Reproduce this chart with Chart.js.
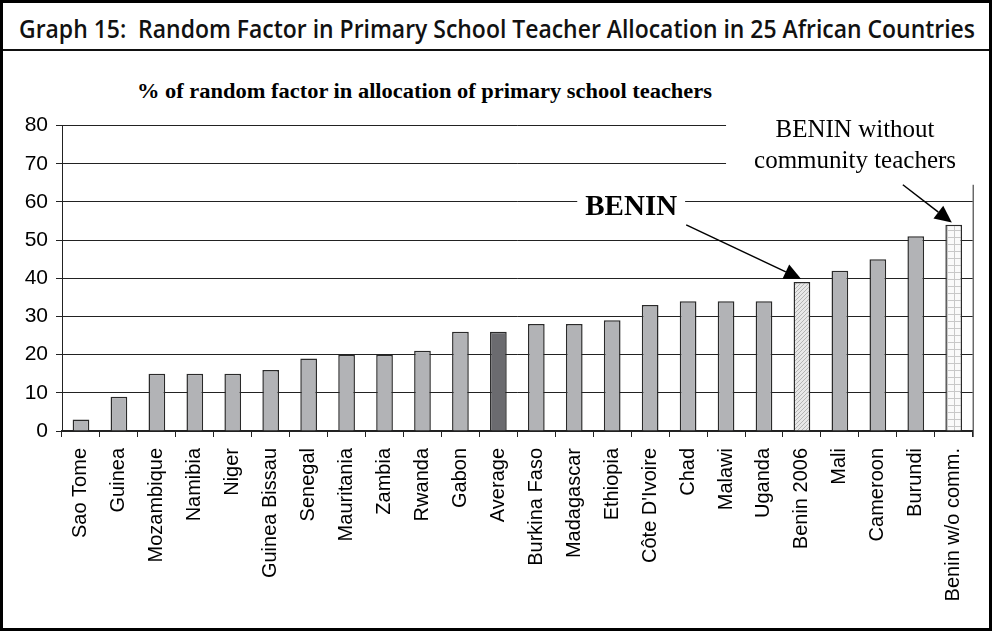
<!DOCTYPE html>
<html>
<head>
<meta charset="utf-8">
<script src="https://cdn.jsdelivr.net/npm/chart.js@4"></script>
<style>
html, body { margin: 0; padding: 0; background: #fff; }
#frame { position: absolute; left: 0; top: 0; width: 992px; height: 631px; box-sizing: border-box; border: 3px solid #000; }
#head { position: absolute; left: 19px; top: 13px; font-family: "Open Sans", sans-serif; font-weight: 600; font-size: 25px; line-height: 30px; color: #111; white-space: nowrap; transform-origin: 0 0; }
#rule { position: absolute; left: 3px; right: 3px; top: 49px; height: 2px; background: #111; }
#sub { position: absolute; left: 137px; top: 80px; font-family: "Liberation Serif", serif; font-weight: bold; font-size: 20px; line-height: 23px; color: #000; white-space: nowrap; transform-origin: 0 0; }
#c { position: absolute; left: 3px; top: 105px; }
</style>
</head>
<body>
<div id="frame"></div>
<div id="head">Graph 15:&nbsp; Random Factor in Primary School Teacher Allocation in 25 African Countries</div>
<div id="rule"></div>
<div id="sub">% of random factor in allocation of primary school teachers</div>
<canvas id="c" width="986" height="522"></canvas>
<script>
// data
var countries = ["Sao Tome", "Guinea", "Mozambique", "Namibia", "Niger", "Guinea Bissau", "Senegal",
  "Mauritania", "Zambia", "Rwanda", "Gabon", "Average", "Burkina Faso", "Madagascar", "Ethiopia",
  "Côte D'Ivoire", "Chad", "Malawi", "Uganda", "Benin 2006", "Mali", "Cameroon", "Burundi", "Benin w/o comm."];
var randomFactor = [3, 9, 15, 15, 15, 16, 19, 20, 20, 21, 26, 26, 28, 28, 29, 33, 34, 34, 34, 39, 42, 45, 51, 54];
var yTicks = [0, 10, 20, 30, 40, 50, 60, 70, 80];

// squeeze the header texts to the widths they have in the picture
function fitWidth(id, w) {
  var el = document.getElementById(id);
  el.style.transform = 'scaleX(' + (w / el.getBoundingClientRect().width) + ')';
}
fitWidth('head', 956);
fitWidth('sub', 575);

// fill patterns for the two Benin bars
function hatch() {
  var p = document.createElement('canvas');
  p.width = 4; p.height = 4;
  var g = p.getContext('2d');
  g.fillStyle = '#e8e8e8'; g.fillRect(0, 0, 4, 4);
  g.strokeStyle = '#b4b4b4'; g.lineWidth = 1;
  g.beginPath();
  g.moveTo(0, 4); g.lineTo(4, 0);
  g.moveTo(-2, 2); g.lineTo(2, -2);
  g.moveTo(2, 6); g.lineTo(6, 2);
  g.stroke();
  return g.createPattern(p, 'repeat');
}
function gridPat() {
  var p = document.createElement('canvas');
  p.width = 7; p.height = 7;
  var g = p.getContext('2d');
  g.fillStyle = '#fafafa'; g.fillRect(0, 0, 7, 7);
  g.fillStyle = '#c8c8c8';
  g.fillRect(0, 6, 7, 1);
  g.fillRect(6, 0, 1, 7);
  return g.createPattern(p, 'repeat');
}

var fills = countries.map(function (c) {
  if (c === 'Average') return '#6b6b6f';
  if (c === 'Benin 2006') return hatch();
  if (c === 'Benin w/o comm.') return gridPat();
  return '#b2b3b6';
});

function arrow(ctx, x1, y1, x2, y2) {
  var a = Math.atan2(y2 - y1, x2 - x1);
  var L = 17, W = 8;
  ctx.strokeStyle = '#000'; ctx.fillStyle = '#000'; ctx.lineWidth = 1.5;
  ctx.beginPath();
  ctx.moveTo(x1, y1);
  ctx.lineTo(x2 - L * Math.cos(a), y2 - L * Math.sin(a));
  ctx.stroke();
  ctx.beginPath();
  ctx.moveTo(x2, y2);
  ctx.lineTo(x2 - L * Math.cos(a) + W * Math.sin(a), y2 - L * Math.sin(a) - W * Math.cos(a));
  ctx.lineTo(x2 - L * Math.cos(a) - W * Math.sin(a), y2 - L * Math.sin(a) + W * Math.cos(a));
  ctx.closePath();
  ctx.fill();
}

var notes = {
  id: 'notes',
  afterDraw: function (chart) {
    var ctx = chart.ctx, x = chart.scales.x, y = chart.scales.y, ca = chart.chartArea;
    ctx.save();
    // right border of plot
    ctx.strokeStyle = '#222'; ctx.lineWidth = 1;
    ctx.beginPath(); ctx.moveTo(ca.right + 0.5, ca.top); ctx.lineTo(ca.right + 0.5, ca.bottom + 6); ctx.stroke();

    // box for the "without community teachers" note
    var bx = x.getPixelForValue(17);
    ctx.fillStyle = '#fff';
    ctx.fillRect(bx, y.getPixelForValue(83), ca.right + 8 - bx, y.getPixelForValue(64.5) - y.getPixelForValue(83));
    ctx.fillStyle = '#000';
    ctx.font = '25px "Liberation Serif", serif';
    ctx.textAlign = 'center'; ctx.textBaseline = 'middle';
    var cx = x.getPixelForValue(20.4);
    ctx.fillText('BENIN without', cx, y.getPixelForValue(78.8));
    ctx.fillText('community teachers', cx, y.getPixelForValue(70.6));

    // BENIN label
    ctx.font = 'bold 29px "Liberation Serif", serif';
    var tx = x.getPixelForValue(14.5), ty = y.getPixelForValue(58.6);
    var tw = ctx.measureText('BENIN').width;
    ctx.fillStyle = '#fff';
    ctx.fillRect(tx - tw / 2 - 8, ty - 16, tw + 16, 32);
    ctx.fillStyle = '#000';
    ctx.fillText('BENIN', tx, ty);

    arrow(ctx, x.getPixelForValue(15.95), y.getPixelForValue(54), x.getPixelForValue(18.98), y.getPixelForValue(39.8));
    arrow(ctx, x.getPixelForValue(21.66), y.getPixelForValue(64.5), x.getPixelForValue(22.95), y.getPixelForValue(54.6));
    ctx.restore();
  }
};

new Chart(document.getElementById('c'), {
  type: 'bar',
  data: {
    labels: countries,
    datasets: [{
      data: randomFactor,
      backgroundColor: fills,
      borderColor: '#2a2a2a',
      borderWidth: 1.5,
      borderSkipped: 'bottom',
      categoryPercentage: 1,
      barPercentage: 0.44
    }]
  },
  options: {
    responsive: false,
    animation: false,
    devicePixelRatio: 1,
    layout: { padding: { top: 20, right: 14, left: 0, bottom: 0 } },
    plugins: { legend: { display: false }, tooltip: { enabled: false }, title: { display: false } },
    scales: {
      x: {
        grid: { display: true, drawOnChartArea: false, color: '#222', tickLength: 6, offset: true },
        border: { display: true, color: '#222', width: 1.5 },
        ticks: { color: '#000', font: { family: 'Liberation Sans', size: 20 }, minRotation: 90, maxRotation: 90, autoSkip: false, padding: 11 },
        afterFit: function (s) { s.height = 196; }
      },
      y: {
        min: 0, max: 80,
        afterBuildTicks: function (s) { s.ticks = yTicks.map(function (v) { return { value: v }; }); },
        grid: { color: '#222', lineWidth: 1, tickLength: 6 },
        border: { display: true, color: '#222', width: 1 },
        ticks: { color: '#000', font: { family: 'Liberation Sans', size: 21 }, padding: 8 },
        afterFit: function (s) { s.width = 59; }
      }
    }
  },
  plugins: [notes]
});
</script>
</body>
</html>
